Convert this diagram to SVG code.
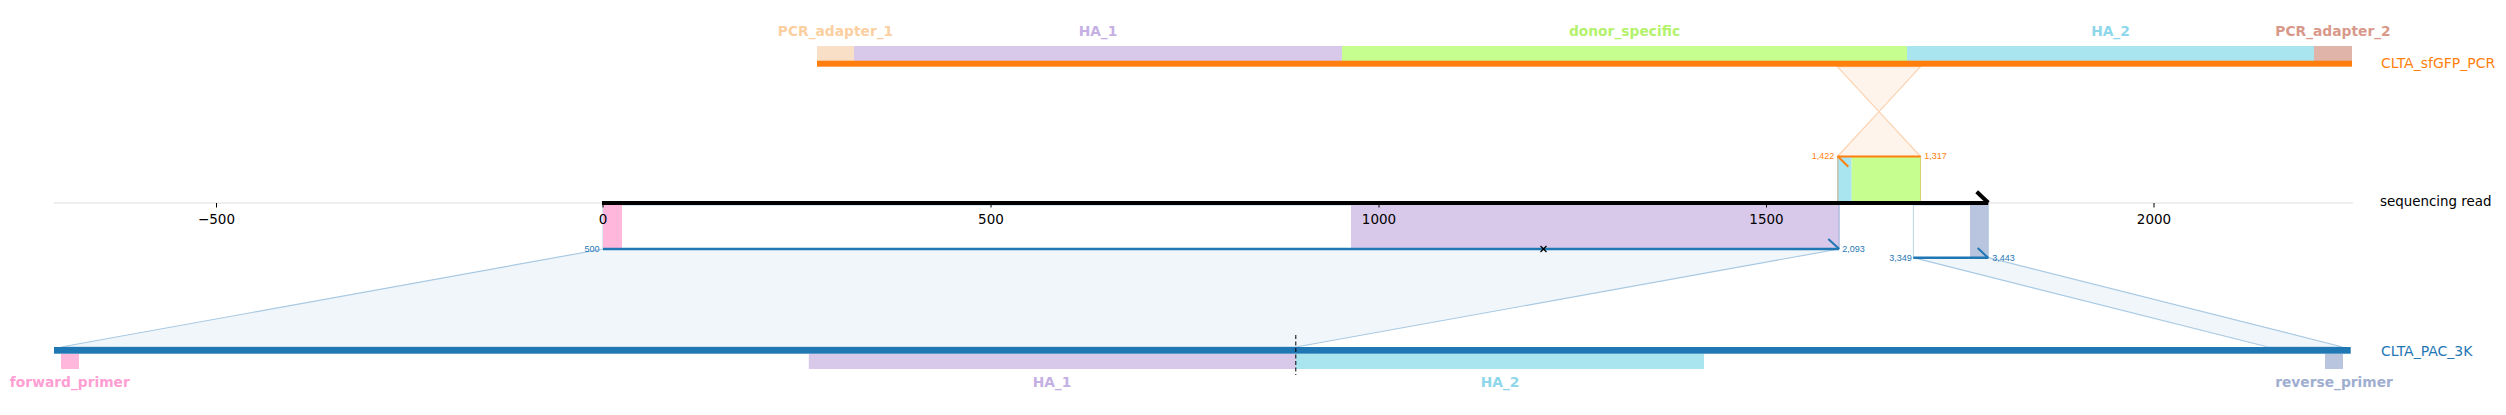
<svg xmlns="http://www.w3.org/2000/svg" width="2506" height="415" viewBox="0 0 2506 415">
<style>
.flab{font-family:"DejaVu Sans",sans-serif;font-size:13.8px;font-weight:bold;text-anchor:middle}
.tick{font-family:"DejaVu Sans",sans-serif;font-size:13.5px;fill:#000;text-anchor:middle}
.trk{font-family:"DejaVu Sans",sans-serif;font-size:14px}
.num{font-family:"Liberation Sans",sans-serif;font-size:9px}
.blue{fill:#1f77b4}
.orange{fill:#ff7f0e}
.map{fill:#f0f6fa;stroke:#a9c9e2;stroke-width:1.2}
.hour{fill:#fef4ec;stroke:#fdd3b0;stroke-width:1.2}
</style>
<rect width="2506" height="415" fill="#fff"/>

<!-- connectors -->
<g id="connectors">
  <polygon class="map" points="603,249 1839,249 1296,347 61,347"/>
  <polygon class="map" points="1913.3,257.7 1988.3,257.7 2342.6,347 2268,347"/>
  <polygon class="hour" points="1837.3,66.7 1920.5,66.7 1879,111.7"/>
  <polygon class="hour" points="1879,111.7 1920.5,156.5 1837.5,156.5"/>
</g>

<!-- top track -->
<g id="track-CLTA_sfGFP_PCR">
  <rect x="817" y="46" width="37" height="15" fill="#f9dfc5"/>
  <rect x="854" y="46" width="488" height="15" fill="#d8c8ea"/>
  <rect x="1342" y="46" width="565" height="15" fill="#c6ff8f"/>
  <rect x="1907" y="46" width="407" height="15" fill="#a9e5ef"/>
  <rect x="2314" y="46" width="38" height="15" fill="#e0b4a8"/>
  <rect x="817" y="60.7" width="1535" height="6" fill="#ff7f0e"/>
  <text class="flab" x="835.5" y="36" fill="#fbcf9f">PCR_adapter_1</text>
  <text class="flab" x="1098" y="36" fill="#c5b0e3">HA_1</text>
  <text class="flab" x="1624.5" y="36" fill="#b3f26c">donor_specific</text>
  <text class="flab" x="2110.5" y="36" fill="#8ed7ea">HA_2</text>
  <text class="flab" x="2333" y="36" fill="#d9998a">PCR_adapter_2</text>
  <text class="trk orange" x="2381" y="67.8">CLTA_sfGFP_PCR</text>
</g>

<!-- axis line -->
<g id="read-axis-line">
  <line x1="54" y1="203" x2="2353" y2="203" stroke="#dddddd" stroke-width="1"/>
</g>

<!-- mapped region from top track -->
<g id="map-sfGFP">
  <rect x="1837.5" y="156.5" width="14.2" height="46.5" fill="#a9e5ef"/>
  <rect x="1851.7" y="156.5" width="69" height="46.5" fill="#c6ff8f"/>
  <line x1="1837.8" y1="156.5" x2="1837.8" y2="207" stroke="#c89a6a" stroke-width="0.8"/>
  <line x1="1920.5" y1="156.5" x2="1920.5" y2="207" stroke="#d6c860" stroke-width="0.8"/>
  <line x1="1837.3" y1="156.5" x2="1920.7" y2="156.5" stroke="#ff7f0e" stroke-width="2"/>
  <line x1="1838" y1="156.5" x2="1848.3" y2="166.7" stroke="#ff7f0e" stroke-width="2"/>
  <text class="num orange" x="1834.3" y="159.3" text-anchor="end">1,422</text>
  <text class="num orange" x="1924.3" y="159.3">1,317</text>
</g>

<!-- mapped region 1 of bottom track -->
<g id="map-PAC-1">
  <rect x="603" y="205" width="1236" height="44" fill="#fff" stroke="#a9c9e2" stroke-width="0.8"/>
  <rect x="603" y="205" width="19" height="44" fill="#ffb8dc"/>
  <rect x="1351" y="205" width="488" height="44" fill="#d8c8ea"/>
  <line x1="1839" y1="205" x2="1839" y2="249" stroke="#9fb2d8" stroke-width="1"/>
  <line x1="603" y1="249" x2="1839" y2="249" stroke="#1f77b4" stroke-width="2.5"/>
  <line x1="1828.3" y1="239" x2="1839.3" y2="249" stroke="#1f77b4" stroke-width="2"/>
  <g stroke="#000" stroke-width="1.3">
    <line x1="1540.5" y1="246" x2="1546.5" y2="252"/>
    <line x1="1540.5" y1="252" x2="1546.5" y2="246"/>
  </g>
  <text class="num blue" x="599.5" y="252.2" text-anchor="end">500</text>
  <text class="num blue" x="1842.3" y="252.2">2,093</text>
</g>

<!-- mapped region 2 of bottom track -->
<g id="map-PAC-2">
  <rect x="1913.3" y="205" width="75" height="52.7" fill="#fff" stroke="#a9c9e2" stroke-width="0.8"/>
  <rect x="1970" y="205" width="18.3" height="52.7" fill="#b9c5df"/>
  <line x1="1913.3" y1="257.7" x2="1988.3" y2="257.7" stroke="#1f77b4" stroke-width="2.5"/>
  <line x1="1977.7" y1="248" x2="1988.3" y2="258" stroke="#1f77b4" stroke-width="2"/>
  <text class="num blue" x="1911.7" y="261.2" text-anchor="end">3,349</text>
  <text class="num blue" x="1992.3" y="261.2">3,443</text>
</g>

<!-- read arrow, ticks and labels -->
<g id="read-arrow">
  <line x1="602" y1="203" x2="1988.3" y2="203" stroke="#000" stroke-width="4"/>
  <line x1="1976.7" y1="191.7" x2="1988.3" y2="202.7" stroke="#000" stroke-width="4" stroke-linecap="butt"/>
  <g stroke="#000" stroke-width="1">
    <line x1="216.5" y1="203" x2="216.5" y2="207.5"/>
    <line x1="603" y1="203" x2="603" y2="207.5"/>
    <line x1="991" y1="203" x2="991" y2="207.5"/>
    <line x1="1379" y1="203" x2="1379" y2="207.5"/>
    <line x1="1766.5" y1="203" x2="1766.5" y2="207.5"/>
    <line x1="2154" y1="203" x2="2154" y2="207.5"/>
  </g>
  <text class="tick" x="216.5" y="224.2">−500</text>
  <text class="tick" x="603" y="224.2">0</text>
  <text class="tick" x="991" y="224.2">500</text>
  <text class="tick" x="1379" y="224.2">1000</text>
  <text class="tick" x="1766.5" y="224.2">1500</text>
  <text class="tick" x="2154" y="224.2">2000</text>
  <text class="trk" x="2380" y="205.8" fill="#000" style="font-size:13.4px">sequencing read</text>
</g>

<!-- bottom track -->
<g id="track-CLTA_PAC_3K">
  <rect x="61" y="353.7" width="18" height="15.3" fill="#ffb8dc"/>
  <rect x="808.8" y="353.7" width="487" height="15.3" fill="#d8c8ea"/>
  <rect x="1295.8" y="353.7" width="408.2" height="15.3" fill="#a9e5ef"/>
  <rect x="2325" y="353.7" width="18" height="15.3" fill="#b9c5df"/>
  <rect x="54" y="347" width="2296.7" height="6.7" fill="#1f77b4"/>
  <line x1="1295.8" y1="335" x2="1295.8" y2="375" stroke="#000" stroke-width="1" stroke-dasharray="4,2.5"/>
  <text class="flab" x="69.8" y="386.7" fill="#ff9ed2">forward_primer</text>
  <text class="flab" x="1052" y="386.7" fill="#c5b0e3">HA_1</text>
  <text class="flab" x="1500" y="386.7" fill="#8ed7ea">HA_2</text>
  <text class="flab" x="2334" y="386.7" fill="#a0aed0">reverse_primer</text>
  <text class="trk blue" x="2381" y="355.8">CLTA_PAC_3K</text>
</g>
</svg>
